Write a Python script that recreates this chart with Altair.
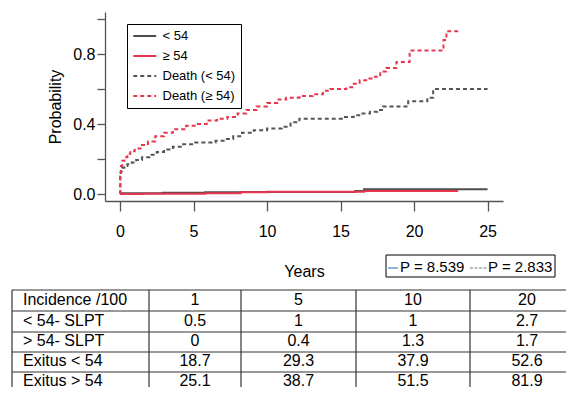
import altair as alt
import pandas as pd

FONT = "Liberation Sans"

# ---------------- curve data ----------------
series_names = ["< 54", "≥ 54", "Death (< 54)", "Death (≥ 54)"]
series_colors = ["#4d4d4d", "#e8364f", "#555555", "#e8364f"]

t_lt54 = [0, 0.1, 2.9, 5.8, 8.2, 16.0, 16.6, 25.0]
p_lt54 = [0, 0.005, 0.007, 0.010, 0.012, 0.017, 0.027, 0.027]

t_ge54 = [0, 1.6, 5.8, 8.2, 10.0, 16.6, 23.0]
p_ge54 = [0, 0.002, 0.004, 0.010, 0.013, 0.017, 0.017]

t_death_lt54 = [0, 0.02, 0.06, 0.15, 0.3, 0.5, 0.8, 1.1, 1.5, 2.0, 2.5, 3.0, 3.6, 4.2, 5.0,
                6.5, 7.2, 7.7, 8.3, 9.1, 10.0, 11.0, 11.6, 12.2, 15.3, 15.9, 16.4, 17.0,
                17.5, 17.9, 19.6, 20.9, 21.3, 25.0]
p_death_lt54 = [0, 0.10, 0.13, 0.15, 0.16, 0.17, 0.18, 0.195, 0.21, 0.225, 0.24, 0.255, 0.27,
                0.285, 0.295, 0.305, 0.315, 0.33, 0.35, 0.365, 0.375, 0.385, 0.41, 0.43, 0.44,
                0.45, 0.46, 0.47, 0.48, 0.50, 0.53, 0.55, 0.60, 0.60]

t_death_ge54 = [0, 0.02, 0.06, 0.15, 0.3, 0.5, 0.7, 1.0, 1.4, 1.9, 2.4, 3.0, 3.6, 4.5, 5.3,
                5.9, 6.6, 7.3, 8.0, 8.6, 9.3, 10.0, 10.7, 11.3, 12.2, 13.1, 13.8, 14.3, 15.4,
                15.9, 16.3, 16.9, 17.2, 17.7, 18.1, 18.8, 19.7, 22.0, 22.2, 23.0]
p_death_ge54 = [0, 0.12, 0.16, 0.19, 0.21, 0.23, 0.245, 0.26, 0.28, 0.30, 0.33, 0.35, 0.37,
                0.39, 0.40, 0.42, 0.43, 0.44, 0.46, 0.48, 0.50, 0.52, 0.54, 0.55, 0.56, 0.57,
                0.59, 0.60, 0.61, 0.63, 0.65, 0.66, 0.67, 0.70, 0.72, 0.755, 0.82, 0.88, 0.93, 0.93]

# ---------------- table data ----------------
table_header = ["Incidence /100", "1", "5", "10", "20"]
row_labels = ["< 54- SLPT", "> 54- SLPT", "Exitus < 54", "Exitus > 54"]
row_values = [
    ["0.5", "1", "1", "2.7"],
    ["0", "0.4", "1.3", "1.7"],
    ["18.7", "29.3", "37.9", "52.6"],
    ["25.1", "38.7", "51.5", "81.9"],
]
p_labels = ["P = 8.539", "P = 2.833"]

# ---------------- build frames ----------------
rows = []
for name, ts, ps in zip(series_names,
                        [t_lt54, t_ge54, t_death_lt54, t_death_ge54],
                        [p_lt54, p_ge54, p_death_lt54, p_death_ge54]):
    for t, p in zip(ts, ps):
        rows.append({"series": name, "t": t, "p": p})
curves_df = pd.DataFrame(rows)

cells = []
for c, h in enumerate(table_header):
    cells.append({"row": 0, "col": c, "text": h, "first": c == 0})
for r, (lab, vals) in enumerate(zip(row_labels, row_values), start=1):
    cells.append({"row": r, "col": 0, "text": lab, "first": True})
    for c, v in enumerate(vals, start=1):
        cells.append({"row": r, "col": c, "text": v, "first": False})
cells_df = pd.DataFrame(cells)
cells_df["cx"] = cells_df["col"] + 0.5
cells_df["cy"] = cells_df["row"] + 0.5

n_rows = len(row_labels) + 1
n_cols = len(table_header)
hlines = pd.DataFrame({"y": list(range(n_rows + 1)), "x0": 0, "x1": n_cols})
vlines = pd.DataFrame({"x": list(range(n_cols + 1)), "y0": 0, "y1": n_rows})

# ---------------- curves ----------------
W, H = 398, 189
xscale = alt.Scale(domain=[-1.02, 26.05], nice=False, zero=False)
yscale = alt.Scale(domain=[-0.04, 1.04], nice=False, zero=False)

legend_cfg = dict(orient="none", legendX=22, legendY=12, title=None)

curves = alt.Chart(curves_df).mark_line(interpolate="step-after").encode(
    x=alt.X("t:Q", scale=xscale,
            axis=alt.Axis(values=[0, 5, 10, 15, 20, 25], format="d", title="Years",
                          tickSize=10, labelPadding=12, titlePadding=24, grid=False)),
    y=alt.Y("p:Q", scale=yscale,
            axis=alt.Axis(values=[0, 0.2, 0.4, 0.6, 0.8, 1.0],
                          labelExpr="(datum.value == 0 || datum.value == 0.4 || datum.value == 0.8) ? format(datum.value, '.1f') : ''",
                          title="Probability", tickSize=8, labelPadding=2,
                          titlePadding=9, grid=False)),
    color=alt.Color("series:N", sort=series_names,
                    scale=alt.Scale(domain=series_names, range=series_colors),
                    legend=alt.Legend(**legend_cfg,
                                      labelFont=FONT, labelFontSize=13, labelColor="black",
                                      labelExpr="datum.label + '\u2002\u2009\u2009'",
                                      symbolType="M-1,0H3", symbolSize=132,
                                      symbolStrokeWidth=1.6, strokeColor="black",
                                      fillColor="white", padding=5, labelOffset=16.5,
                                      rowPadding=6)),
    strokeDash=alt.StrokeDash("series:N", sort=series_names,
                              scale=alt.Scale(domain=series_names,
                                              range=[[1, 0], [1, 0], [4, 3], [4, 3]]),
                              legend=alt.Legend(**legend_cfg)),
    strokeWidth=alt.StrokeWidth("series:N",
                                scale=alt.Scale(domain=series_names, range=[2, 2, 1.5, 1.5]),
                                legend=None),
    order=alt.Order("t:Q"),
)

# ---------------- table ----------------
tx = alt.Scale(domain=[0, 1, 2, 3, 4, 5], range=[-93, 44, 136, 251, 365, 479])
ty = alt.Scale(domain=[0, 1, 2, 3, 4, 5], range=[278, 299, 320, 340, 360, 379])
line_color = "#333333"

h_rules = alt.Chart(hlines).mark_rule(color=line_color, strokeWidth=1.2).encode(
    x=alt.X("x0:Q", scale=tx, axis=None), x2="x1:Q",
    y=alt.Y("y:Q", scale=ty, axis=None))
v_rules = alt.Chart(vlines).mark_rule(color=line_color, strokeWidth=1.2).encode(
    x=alt.X("x:Q", scale=tx, axis=None),
    y=alt.Y("y0:Q", scale=ty, axis=None), y2="y1:Q")
label_text = alt.Chart(cells_df).transform_filter("datum.first").mark_text(
    align="left", baseline="middle", dx=11, dy=-1, font=FONT, fontSize=16, color="black"
).encode(x=alt.X("col:Q", scale=tx, axis=None),
         y=alt.Y("cy:Q", scale=ty, axis=None), text="text:N")
value_text = alt.Chart(cells_df).transform_filter("!datum.first").mark_text(
    align="center", baseline="middle", dy=-1, font=FONT, fontSize=16, color="black"
).encode(x=alt.X("cx:Q", scale=tx, axis=None),
         y=alt.Y("cy:Q", scale=ty, axis=None), text="text:N")
table = alt.layer(h_rules, v_rules, label_text, value_text)

# ---------------- P annotation box ----------------
pdf = pd.DataFrame({"label": p_labels})
p_box = alt.Chart(pdf.head(1)).mark_rect(fill="white", stroke="black", strokeWidth=1).encode(
    x=alt.value(281), x2=alt.value(450), y=alt.value(243), y2=alt.value(265))
p_line1 = alt.Chart(pdf.head(1)).mark_rule(color="#8fb3d9", strokeWidth=2).encode(
    x=alt.value(283), x2=alt.value(293), y=alt.value(256))
p_line2 = alt.Chart(pdf.head(1)).mark_rule(color="#777777", strokeWidth=1,
                                            strokeDash=[3, 1.5]).encode(
    x=alt.value(365), x2=alt.value(383), y=alt.value(256))
p_text1 = alt.Chart(pdf.iloc[[0]]).mark_text(align="left", baseline="middle", font=FONT,
                                             fontSize=15, color="black").encode(
    x=alt.value(295), y=alt.value(255), text="label:N")
p_text2 = alt.Chart(pdf.iloc[[1]]).mark_text(align="left", baseline="middle", font=FONT,
                                             fontSize=15, color="black").encode(
    x=alt.value(383), y=alt.value(255), text="label:N")
pbox = alt.layer(p_box, p_line1, p_line2, p_text1, p_text2)

chart = alt.layer(curves, table, pbox).resolve_scale(
    x="independent", y="independent"
).properties(
    width=W, height=H,
    padding={"left": 97, "top": 4, "right": 63, "bottom": 186},
    autosize=alt.AutoSizeParams(type="none"),
).configure_view(stroke=None).configure_axis(
    labelFont=FONT, titleFont=FONT, labelFontSize=16, titleFontSize=16,
    titleFontWeight="normal", labelColor="black", titleColor="black",
    domainColor="#555555", tickColor="#555555", domainWidth=1.3, tickWidth=1.3,
)

chart.save("out.html", embed_options={"renderer": "svg", "actions": False})
